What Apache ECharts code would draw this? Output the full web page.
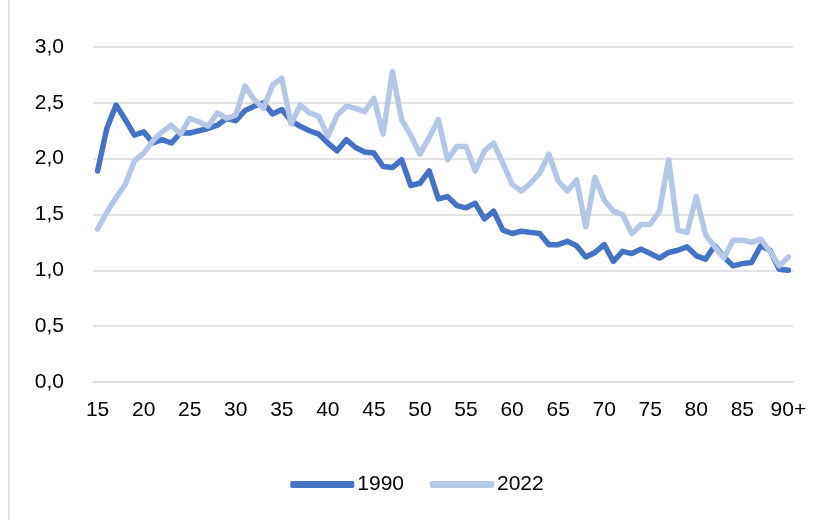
<!DOCTYPE html>
<html>
<head>
<meta charset="utf-8">
<script src="https://cdn.jsdelivr.net/npm/echarts@6/dist/echarts.min.js"></script>
<style>
html,body{margin:0;padding:0;background:#fff;}
#chart{width:834px;height:520px;}
</style>
</head>
<body>
<div id="chart"></div>
<script>
const ages = [];
for (let a = 15; a <= 89; a++) ages.push(String(a));
ages.push('90+');

const series1990 = [1.89,2.27,2.48,2.35,2.21,2.24,2.14,2.17,2.14,2.23,
  2.23,2.25,2.27,2.30,2.36,2.34,2.43,2.47,2.50,2.40,
  2.44,2.34,2.29,2.25,2.22,2.14,2.07,2.17,2.10,2.06,
  2.05,1.93,1.92,1.99,1.76,1.78,1.89,1.64,1.66,1.58,
  1.56,1.60,1.46,1.53,1.36,1.33,1.35,1.34,1.33,1.23,
  1.23,1.26,1.22,1.12,1.16,1.23,1.08,1.17,1.15,1.19,
  1.15,1.11,1.16,1.18,1.21,1.13,1.10,1.22,1.12,1.04,
  1.06,1.07,1.22,1.18,1.01,1.00];

const series2022 = [1.37,1.52,1.65,1.77,1.98,2.05,2.16,2.24,2.30,2.22,
  2.36,2.33,2.29,2.41,2.36,2.39,2.65,2.53,2.45,2.66,
  2.72,2.31,2.48,2.41,2.38,2.20,2.39,2.47,2.45,2.42,
  2.54,2.22,2.78,2.35,2.21,2.04,2.19,2.35,1.99,2.11,
  2.11,1.89,2.07,2.14,1.96,1.77,1.71,1.78,1.87,2.04,
  1.80,1.71,1.81,1.39,1.83,1.63,1.53,1.50,1.33,1.41,
  1.41,1.53,1.99,1.36,1.34,1.66,1.32,1.21,1.11,1.27,
  1.27,1.25,1.28,1.17,1.04,1.12];

const seriesNames = ['1990', '2022'];
const yTicks = [0, 0.5, 1.0, 1.5, 2.0, 2.5, 3.0];

const chart = echarts.init(document.getElementById('chart'), null, {renderer: 'canvas'});
const FONT = '"Liberation Sans Narrow", "Liberation Sans", Arial, sans-serif';
chart.setOption({
  animation: false,
  backgroundColor: '#ffffff',
  graphic: [{
    type: 'line', shape: {x1: 9, y1: 0, x2: 9, y2: 520},
    style: {stroke: '#d9d9d9', lineWidth: 1.5}
  }],
  grid: {left: 93, right: 41, top: 47, bottom: 138},
  legend: {
    bottom: 20, left: 'center',
    itemWidth: 64, itemHeight: 7, itemGap: 26,
    icon: 'roundRect',
    textStyle: {fontFamily: FONT, fontSize: 21, color: '#000', padding: [0,0,0,-2]},
    data: seriesNames
  },
  xAxis: {
    type: 'category',
    data: ages,
    boundaryGap: true,
    axisLine: {show: true, lineStyle: {color: '#d9d9d9', width: 1.5}},
    axisTick: {show: false},
    axisLabel: {interval: 4, margin: 18, fontFamily: FONT, fontSize: 21, color: '#000'},
    splitLine: {show: false}
  },
  yAxis: {
    type: 'value',
    min: yTicks[0], max: yTicks[yTicks.length - 1], interval: 0.5,
    axisLine: {show: false},
    axisTick: {show: false},
    axisLabel: {
      margin: 29, fontFamily: FONT, fontSize: 21, color: '#000',
      formatter: v => v.toFixed(1).replace('.', ',')
    },
    splitLine: {lineStyle: {color: '#d9d9d9', width: 1.5}}
  },
  series: [
    {name: seriesNames[0], type: 'line', data: series1990, showSymbol: false, symbol: 'none',
     lineStyle: {color: '#4472C4', width: 5.5, cap: 'round', join: 'round'}, itemStyle: {color: '#4472C4'}},
    {name: seriesNames[1], type: 'line', data: series2022, showSymbol: false, symbol: 'none',
     lineStyle: {color: '#B4C7E7', width: 5.5, cap: 'round', join: 'round'}, itemStyle: {color: '#B4C7E7'}}
  ]
});
</script>
</body>
</html>
